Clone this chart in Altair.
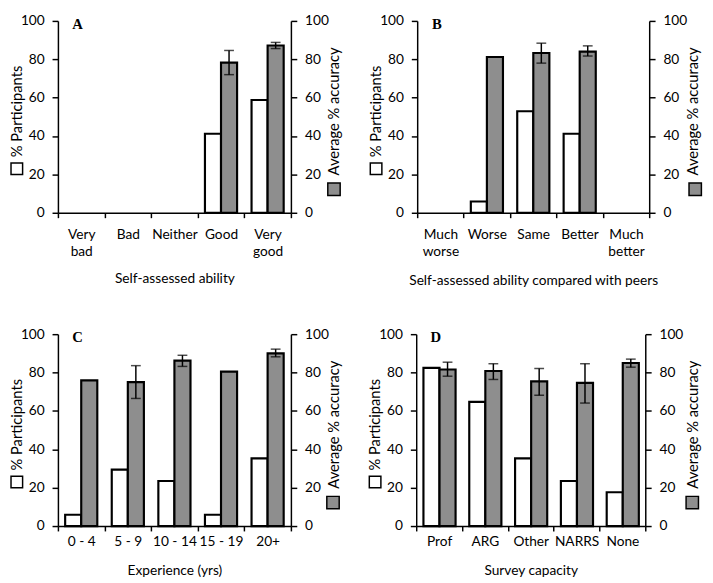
import altair as alt
import pandas as pd

# ---- Panel A: self-assessed ability
cats_a = ["Very bad", "Bad", "Neither", "Good", "Very good"]
part_a = [None, None, None, 41.2, 58.8]
acc_a = [None, None, None, 78.3, 87.2]
lo_a = [None, None, None, 72.0, 85.6]
hi_a = [None, None, None, 84.6, 88.8]

# ---- Panel B: compared with peers
cats_b = ["Much worse", "Worse", "Same", "Better", "Much better"]
part_b = [None, 5.9, 52.9, 41.2, None]
acc_b = [None, 81.2, 83.3, 84.0, None]
lo_b = [None, None, 78.0, 81.7, None]
hi_b = [None, None, 88.4, 87.0, None]

# ---- Panel C: experience
cats_c = ["0 - 4", "5 - 9", "10 - 14", "15 - 19", "20+"]
part_c = [5.9, 29.4, 23.5, 5.9, 35.3]
acc_c = [75.9, 75.0, 86.2, 80.5, 90.0]
lo_c = [None, 66.5, 83.2, None, 88.2]
hi_c = [None, 83.6, 89.0, None, 92.2]

# ---- Panel D: survey capacity
cats_d = ["Prof", "ARG", "Other", "NARRS", "None"]
part_d = [82.4, 64.7, 35.3, 23.5, 17.6]
acc_d = [81.6, 80.8, 75.4, 74.6, 85.0]
lo_d = [78.1, 76.4, 68.2, 64.1, 82.8]
hi_d = [85.4, 84.6, 82.1, 84.6, 87.0]

GRAY = "#8e8e8e"
FONT = "Lato"


def panel(cats, part, acc, lo, hi, letter, xtitle, split, width, xtitle_y,
          rtitle_x, rsq_x, lab_pad):
    height = 196
    rows_p = [{"cat": c, "series": "p", "value": v}
              for c, v in zip(cats, part) if v is not None]
    rows_a = [{"cat": c, "series": "a", "value": v, "lo": l, "hi": h}
              for c, v, l, h in zip(cats, acc, lo, hi) if v is not None]
    df_p = pd.DataFrame(rows_p)
    df_a = pd.DataFrame(rows_a)

    xaxis_kw = dict(title=xtitle, labelAngle=0, tickBand="extent",
                    labelPadding=lab_pad, labelLineHeight=18,
                    titleBaseline="middle", titleY=xtitle_y, titleFontSize=14)
    if split:
        xaxis_kw["labelExpr"] = "split(datum.label, ' ')"
    X = alt.X("cat:N", sort=cats,
              scale=alt.Scale(domain=cats, paddingInner=0, paddingOuter=0),
              axis=alt.Axis(**xaxis_kw))
    XO = alt.XOffset("series:N",
                     scale=alt.Scale(domain=["p", "a"], paddingInner=0,
                                     paddingOuter=0.45))
    yscale = alt.Scale(domain=[0, 100])
    ticks = [0, 20, 40, 60, 80, 100]

    left_axis = alt.Axis(orient="left", title="% Participants",
                         values=ticks, titleAngle=-90,
                         titleBaseline="bottom", titleX=-34, titleY=92)
    right_axis = alt.Axis(orient="right", title="Average % accuracy",
                          values=ticks, titleAngle=-90,
                          titleBaseline="bottom", titleX=rtitle_x,
                          titleY=92)

    white = alt.Chart(df_p).mark_bar(
        fill="white", stroke="black", strokeWidth=2.2
    ).encode(
        x=X, xOffset=XO,
        y=alt.Y("value:Q", scale=yscale, axis=left_axis),
    )

    base_r = alt.Chart(df_a).encode(x=X, xOffset=XO)
    gray = base_r.mark_bar(
        fill=GRAY, stroke="black", strokeWidth=2.2
    ).encode(
        y=alt.Y("value:Q", scale=yscale, axis=right_axis),
    )
    rule = base_r.mark_rule(color="black", strokeWidth=1.5).encode(
        y=alt.Y("lo:Q", scale=yscale, axis=right_axis), y2="hi:Q")
    cap_lo = base_r.mark_tick(color="black", thickness=1.5, size=10).encode(
        y=alt.Y("lo:Q", scale=yscale, axis=right_axis))
    cap_hi = base_r.mark_tick(color="black", thickness=1.5, size=10).encode(
        y=alt.Y("hi:Q", scale=yscale, axis=right_axis))
    right = alt.layer(gray, rule, cap_lo, cap_hi)

    one = pd.DataFrame([{"k": 0}])
    lab = alt.Chart(one).mark_text(
        text=letter, font="Liberation Serif", fontWeight="bold", fontSize=15,
        align="center", baseline="middle", color="black"
    ).encode(x=alt.value(20), y=alt.value(3))
    sq_w = alt.Chart(one).mark_square(
        size=140, fill="white", stroke="black", strokeWidth=1.5, opacity=1
    ).encode(x=alt.value(-42), y=alt.value(151))
    sq_g = alt.Chart(one).mark_square(
        size=160, fill=GRAY, stroke="black", strokeWidth=1.5, opacity=1
    ).encode(x=alt.value(width + rsq_x), y=alt.value(172))

    return alt.layer(white, right, lab, sq_w, sq_g).resolve_scale(
        y="independent"
    ).properties(width=width, height=height)


pa = panel(cats_a, part_a, acc_a, lo_a, hi_a, "A", "Self-assessed ability",
           True, 238, 67, 52, 44, 10)
pb = panel(cats_b, part_b, acc_b, lo_b, hi_b, "B",
           "Self-assessed ability compared with peers", True, 237, 69, 52,
           47, 10)
pc = panel(cats_c, part_c, acc_c, lo_c, hi_c, "C", "Experience (yrs)",
           False, 238, 45, 52, 43, 4)
pd_ = panel(cats_d, part_d, acc_d, lo_d, hi_d, "D", "Survey capacity",
            False, 234, 46, 56, 48, 4)

chart = alt.vconcat(
    alt.hconcat(pa, pb, spacing=24),
    alt.hconcat(pc, pd_, spacing=24),
    spacing=41,
).configure(
    padding=0,
    background="white"
).configure_view(
    stroke=None
).configure_axis(
    grid=False, domainColor="black", domainWidth=1.5, tickColor="black",
    tickWidth=1.5, tickSize=6, labelColor="black", labelFont=FONT,
    labelFontSize=14, titleFont=FONT, titleFontSize=15,
    titleFontWeight="normal", titleColor="black", labelPadding=3
).configure_axisY(labelFontSize=14, labelPadding=8).configure_axisX(tickSize=5)

chart.save("out.html", embed_options={"renderer": "svg", "actions": False})
